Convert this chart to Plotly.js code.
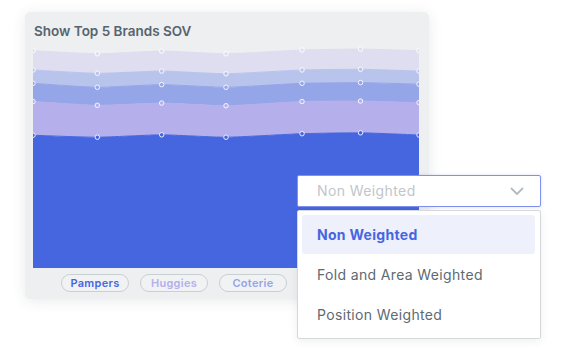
<!DOCTYPE html>
<html>
<head>
<meta charset="utf-8">
<script src="https://cdn.plot.ly/plotly-3.0.1.min.js"></script>
<style>
  html, body { margin:0; padding:0; background:#ffffff; width:568px; height:349px; overflow:hidden; font-family: Inter, "Open Sans", sans-serif; }
  #card { position:absolute; left:25px; top:12px; width:404px; height:287px; background:#eeeff1; border-radius:5px;
          box-shadow: 0 2px 14px rgba(40,50,70,0.10); }
  #chart { position:absolute; left:0; top:0; width:568px; height:349px; }
  #pills { position:absolute; left:0; top:0; width:568px; height:349px; pointer-events:none; }
  .pill { position:absolute; top:274px; width:68px; height:18px; box-sizing:border-box; border:1px solid #c9d0d3; border-radius:9px;
          background:#f1f2f4; font-size:11px; font-weight:600; line-height:16px; text-align:center; letter-spacing:0.3px; }
  #dd { position:absolute; left:297px; top:175px; width:244px; height:32px; box-sizing:border-box; background:#fff;
        border:1.5px solid #7f92ee; border-radius:2px; box-shadow:0 0 3px rgba(90,110,230,0.25); }
  #dd .txt { position:absolute; left:19px; top:0; line-height:29px; font-size:14px; letter-spacing:0.4px; color:#c2c6ca; }
  #dd svg { position:absolute; left:212px; top:11px; }
  #menu { position:absolute; left:297px; top:210px; width:244px; height:129px; box-sizing:border-box; background:#fff;
          border:1px solid #d5d9dc; border-radius:2px; box-shadow:0 2px 8px rgba(40,50,70,0.08); }
  .item { position:absolute; left:4px; width:233px; height:39px; line-height:39px; font-size:14px; letter-spacing:0.35px; color:#5e6a72; padding-left:15px; box-sizing:border-box; border-radius:3px; }
  .item.sel { background:#eef0fc; color:#4666e0; font-weight:700; letter-spacing:0.3px; }
</style>
</head>
<body>
<div id="card"></div>
<div id="chart"></div>
<div id="pills"></div>
<div id="dd"><div class="txt">Non Weighted</div>
  <svg width="14" height="9" viewBox="0 0 14 9"><polyline points="1.5,1.5 7,7 12.5,1.5" fill="none" stroke="#b3bbc0" stroke-width="1.8" stroke-linecap="round" stroke-linejoin="round"/></svg>
</div>
<div id="menu"></div>
<script>
// ---- data ----
const dates = ['2023-01-02','2023-01-13','2023-01-24','2023-02-04','2023-02-17','2023-02-27','2023-03-09'];
const brandNames = ['Pampers','Huggies','Coterie','Luvs','Hello Bello'];
const pampers    = [59.8, 58.9, 60.0, 58.9, 60.5, 60.9, 59.9];
const huggies    = [15.2, 14.4, 14.3, 14.2, 14.5, 14.3, 14.6];
const coterie    = [8.2, 8.1, 8.3, 8.3, 8.2, 8.3, 8.3];
const luvs       = [6.0, 6.3, 6.1, 6.1, 6.0, 6.0, 5.9];
const helloBello = [8.7, 8.8, 9.0, 9.0, 9.0, 9.1, 9.2];
const visiblePills = ['Pampers','Huggies','Coterie'];   // the rest sit under the open dropdown
const titleText = 'Show Top 5 Brands SOV';
const weightOptions = ['Non Weighted','Fold and Area Weighted','Position Weighted'];

// ---- styles ----
const colors = ['#4666e0','#b5afec','#94a5e8','#b9c4ec','#dfdef0'];
const series = [pampers, huggies, coterie, luvs, helloBello];

const traces = series.map((vals, i) => ({
  type:'scatter', x:dates, y:vals, name:brandNames[i],
  stackgroup:'sov', mode:'lines+markers',
  line:{shape:'spline', smoothing:0.5, width:1, color:colors[i]},
  fillcolor:colors[i],
  marker:{size:4.5, color:colors[i], line:{width:1, color:'rgba(255,255,255,0.85)'}},
  hoverinfo:'skip'
}));

const layout = {
  width:568, height:349,
  margin:{l:33, r:149, t:46, b:81, pad:0},
  paper_bgcolor:'rgba(0,0,0,0)', plot_bgcolor:'rgba(0,0,0,0)',
  showlegend:false,
  title:{text:titleText, xref:'container', yref:'container', x:34/568, xanchor:'left', y:1-31/349, yanchor:'middle',
         font:{family:'Inter, "Open Sans", sans-serif', size:13.5, color:'#56646e', weight:600}},
  xaxis:{type:'date', range:[dates[0], dates[dates.length-1]], visible:false, showgrid:false, zeroline:false},
  yaxis:{range:[0,100], visible:false, showgrid:false, zeroline:false}
};

Plotly.newPlot('chart', traces, layout, {staticPlot:true, displayModeBar:false});

// legend pills from series names
const pills = document.getElementById('pills');
brandNames.forEach((n, i) => {
  if (visiblePills.indexOf(n) < 0) return;
  const d = document.createElement('div');
  d.className = 'pill';
  d.style.left = (61 + i*79) + 'px';
  d.style.color = colors[i];
  d.textContent = n;
  pills.appendChild(d);
});

// dropdown menu
const menu = document.getElementById('menu');
weightOptions.forEach((o, i) => {
  const d = document.createElement('div');
  d.className = 'item' + (i === 0 ? ' sel' : '');
  d.style.top = (4 + i*40) + 'px';
  d.textContent = o;
  menu.appendChild(d);
});
</script>
</body>
</html>
